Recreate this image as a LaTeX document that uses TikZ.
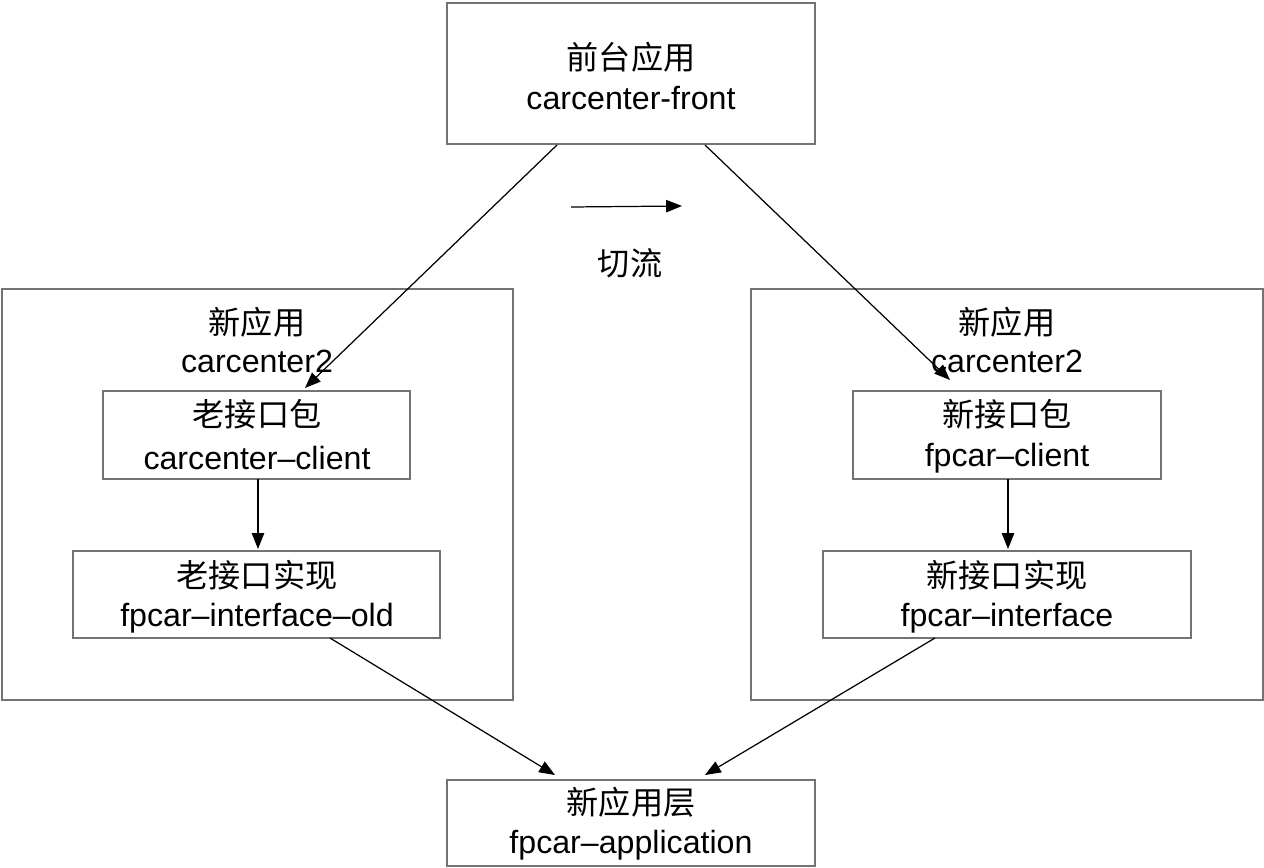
\documentclass[tikz,border=0pt]{standalone}
\usepackage{fontspec}
\setmainfont{Liberation Sans}
\newfontfamily\cjk{Noto Sans CJK SC}
\usetikzlibrary{arrows.meta}
\begin{document}
\begin{tikzpicture}[x=0.02cm,y=-0.02cm,
  box/.style={draw=black!55,line width=0.8pt},
  txt/.style={font=\fontsize{18.3}{21}\selectfont,inner sep=0pt},
  arr/.style={-{Triangle[length=9pt,width=7pt]},line width=0.7pt}]
\useasboundingbox (0,0) rectangle (1264,868);
\draw[box] (447,3) rectangle (815,144);
\draw[box] (2,289) rectangle (513,700);
\draw[box] (103,391) rectangle (410,479);
\draw[box] (73,551) rectangle (440,638);
\draw[box] (751,289) rectangle (1263,700);
\draw[box] (853,391) rectangle (1161,479);
\draw[box] (823,551) rectangle (1191,638);
\draw[box] (447,780) rectangle (815,866);
\node[txt] (t1) at (631,57) {\cjk 前台应用};
\node[txt] (t2) at (631,98) {carcenter-front};
\node[txt] (l1) at (257,322) {\cjk 新应用};
\node[txt] (l2) at (257,361) {carcenter2};
\node[txt] (l3) at (257,414) {\cjk 老接口包};
\node[txt] (l4) at (257,458) {carcenter–client};
\node[txt] (l5) at (257,575) {\cjk 老接口实现};
\node[txt] (l6) at (257,618) {fpcar–interface–old};
\node[txt] (r1) at (1007,322) {\cjk 新应用};
\node[txt] (r2) at (1007,361) {carcenter2};
\node[txt] (r3) at (1007,414) {\cjk 新接口包};
\node[txt] (r4) at (1007,458) {fpcar–client};
\node[txt] (r5) at (1007,575) {\cjk 新接口实现};
\node[txt] (r6) at (1007,618) {fpcar–interface};
\node[txt] (b1) at (631,802) {\cjk 新应用层};
\node[txt] (b2) at (631,845) {fpcar–application};
\node[txt] (q) at (630,263) {\cjk 切流};
\coordinate (a1) at (557,145); \coordinate (a2) at (305,388);
\coordinate (a3) at (705,145); \coordinate (a4) at (950,380);
\coordinate (a5) at (258,479); \coordinate (a6) at (258,549);
\coordinate (a7) at (1008,479); \coordinate (a8) at (1008,549);
\coordinate (a9) at (330,638); \coordinate (a10) at (555,775);
\coordinate (a11) at (935,638); \coordinate (a12) at (705,775);
\coordinate (s1) at (571,207); \coordinate (s2) at (682,206);
\draw[arr] (a1) -- (a2);
\draw[arr] (a3) -- (a4);
\draw[arr] (a5) -- (a6);
\draw[arr] (a7) -- (a8);
\draw[arr] (a9) -- (a10);
\draw[arr] (a11) -- (a12);
\draw[arr] (s1) -- (s2);
\end{tikzpicture}
\end{document}
